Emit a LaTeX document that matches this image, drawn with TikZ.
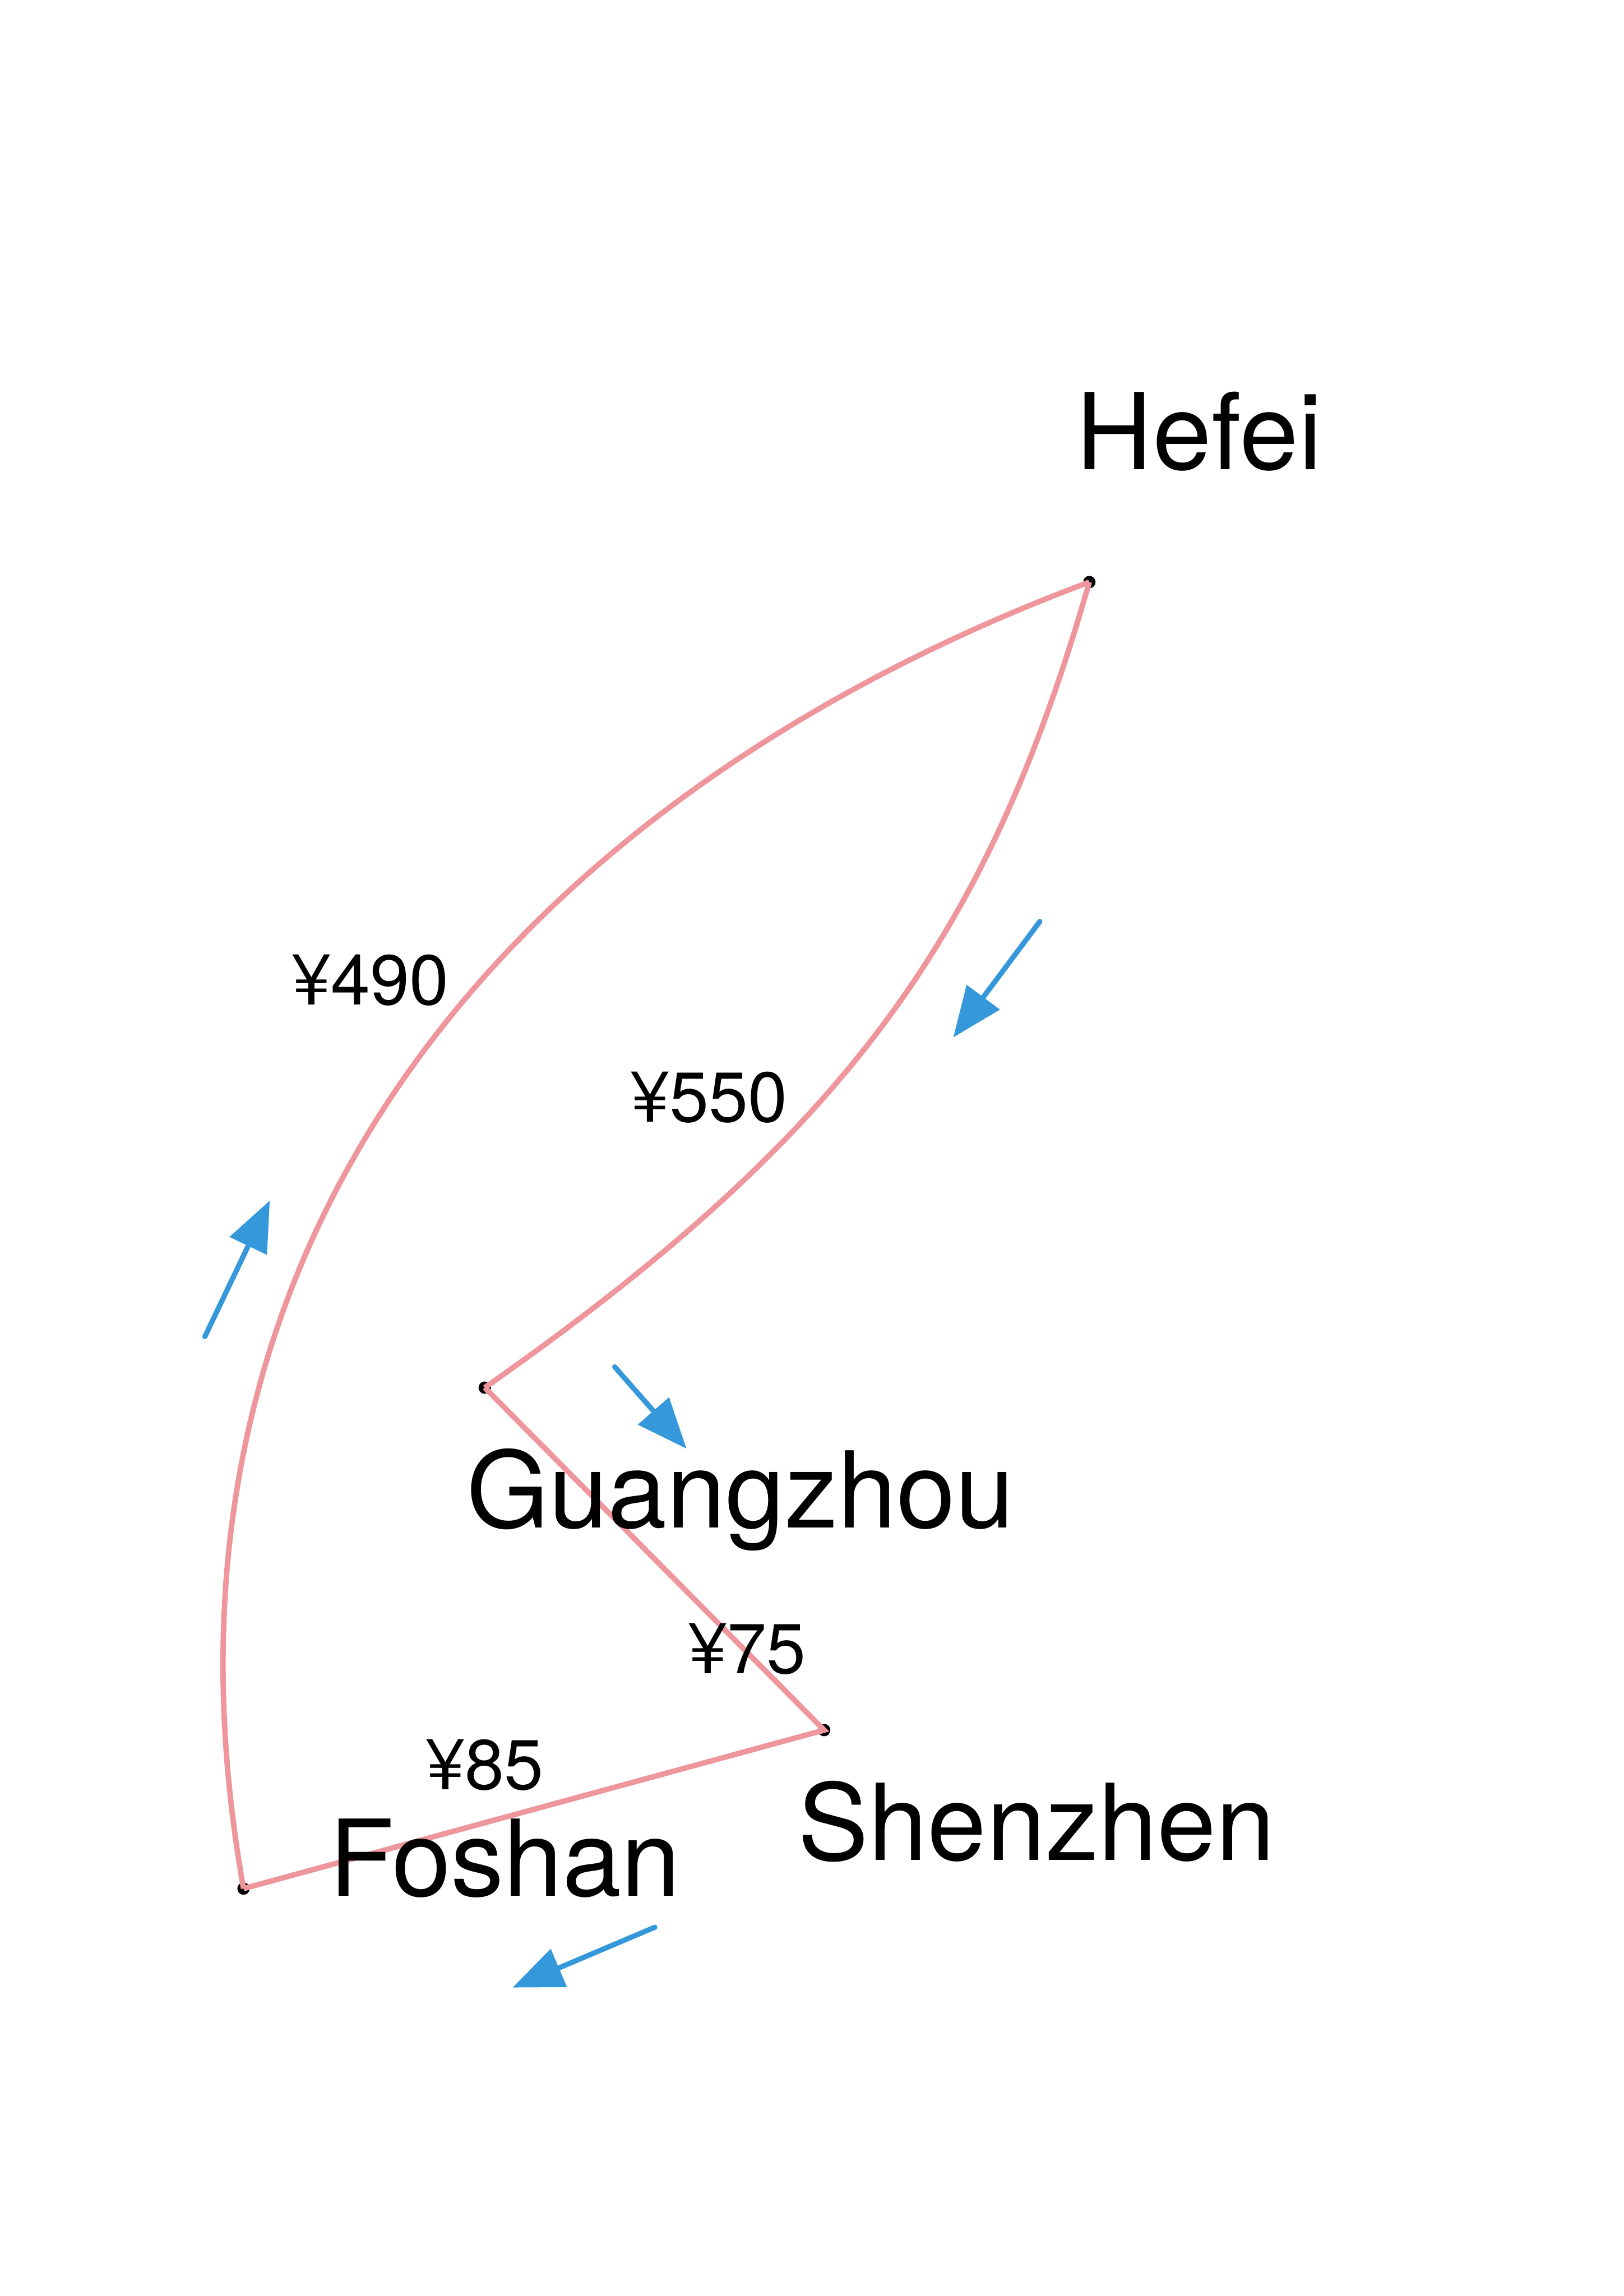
\documentclass[tikz,border=0pt]{standalone}
\usepackage{fontspec}
\setmainfont{TeX Gyre Heros}
\usepackage{tikz}
\usetikzlibrary{arrows.meta}

\definecolor{routered}{RGB}{238,150,155}
\definecolor{flowblue}{RGB}{52,152,219}

\tikzset{
    route/.style={routered, line width=2pt},
    flow/.style={flowblue, line width=1.9pt, line cap=round, -{Triangle[length=6.5mm, width=5.2mm]}},
    city/.style={anchor=base, inner sep=0pt, font=\fontsize{39}{45}\selectfont},
    price/.style={anchor=base, inner sep=0pt, font=\fontsize{26}{30}\selectfont},
}

\begin{document}
\begin{tikzpicture}
    \useasboundingbox (0, 0) rectangle (21, 29.7);
    % stops
    \coordinate (hf) at (14.09, 22.17);
    \coordinate (gz) at (6.27, 11.75);
    \coordinate (sz) at (10.66, 7.32);
    \coordinate (fs) at (3.15, 5.27);
    \fill (hf) circle (0.08); \fill (gz) circle (0.08); \fill (sz) circle (0.08); \fill (fs) circle (0.08);
    % routes
    \draw[route] (hf) .. controls (7.36, 19.66) and (1.56, 14.21) .. (fs);
    \draw[route] (hf) .. controls (12.78, 17.61) and (10.98, 15.05) .. (gz);
    \draw[route] (gz) -- (sz) -- (fs);
    % city names
    \node[city] at (15.51, 23.63) (hefei) {Hefei};
    \node[city] at (9.58, 9.94) (guangzhou) {Guangzhou};
    \node[city] at (13.41, 5.64) (shenzhen) {Shenzhen};
    \node[city] at (6.53, 5.17) (foshan) {Foshan};
    % fares
    \node[price] at (4.79, 16.70) (p490) {¥490};
    \node[price] at (9.17, 15.19) (p550) {¥550};
    \node[price] at (9.66, 8.05) (p75) {¥75};
    \node[price] at (6.27, 6.55) (p85) {¥85};
    % direction of travel
    \coordinate (d1s) at (13.45, 17.78); \coordinate (d1e) at (12.33, 16.28);
    \coordinate (d2s) at (7.95, 12.02);  \coordinate (d2e) at (8.88, 10.96);
    \coordinate (d3s) at (8.47, 4.77);   \coordinate (d3e) at (6.63, 3.99);
    \coordinate (d4s) at (2.65, 12.41);  \coordinate (d4e) at (3.49, 14.17);
    \draw[flow] (d1s) -- (d1e);
    \draw[flow] (d2s) -- (d2e);
    \draw[flow] (d3s) -- (d3e);
    \draw[flow] (d4s) -- (d4e);
\end{tikzpicture}
\end{document}
